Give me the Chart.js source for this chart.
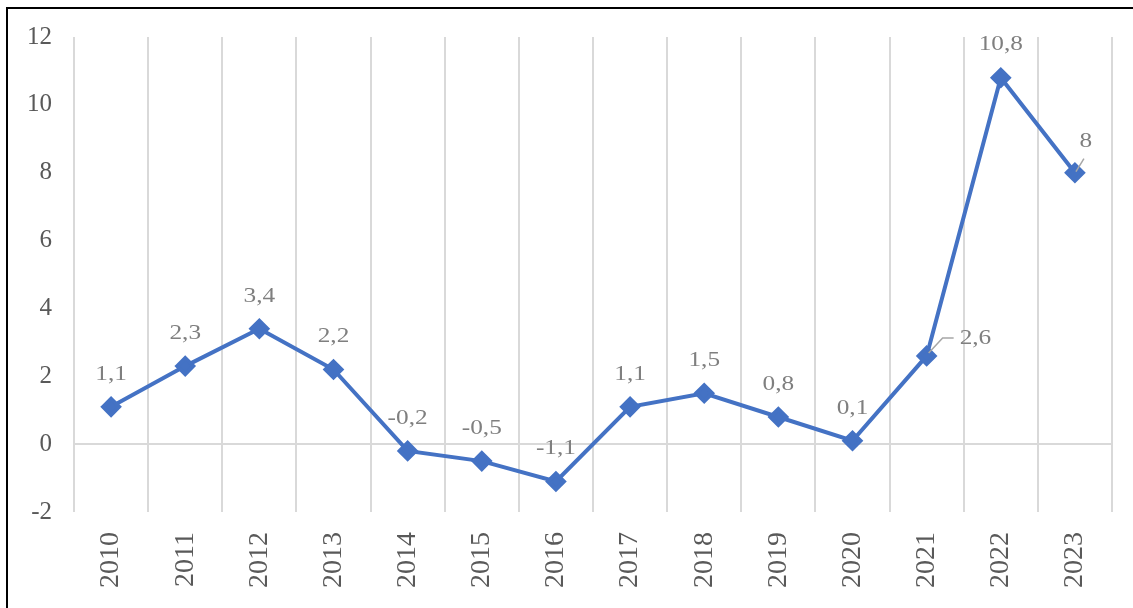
<!DOCTYPE html>
<html>
<head>
<meta charset="utf-8">
<script src="https://cdn.jsdelivr.net/npm/chart.js@4/dist/chart.umd.min.js"></script>
<style>
  html, body { margin: 0; padding: 0; background: #fff; }
  #wrap { position: absolute; left: 0; top: 0; width: 1133px; height: 608px; }
  #frame { position: absolute; left: 6px; top: 7px; width: 1140px; height: 620px;
           border-left: 2px solid #000; border-top: 2px solid #000; pointer-events: none; }
</style>
</head>
<body>
<div id="wrap">
  <canvas id="Chart_0" width="1133" height="608"></canvas>
  <div id="frame"></div>
</div>
<script>
"use strict";

// data
const years = ['2010', '2011', '2012', '2013', '2014', '2015', '2016',
  '2017', '2018', '2019', '2020', '2021', '2022', '2023'];
const values = [1.1, 2.3, 3.4, 2.2, -0.2, -0.5, -1.1, 1.1, 1.5, 0.8, 0.1, 2.6, 10.8, 8];
const yTicks = [-2, 0, 2, 4, 6, 8, 10, 12];

const SERIF = '"Liberation Serif", "Times New Roman", serif';

// value labels drawn by hand (no datalabels plugin here)
function drawLabel(ctx, txt, x, y, align) {
  // text in the picture is a bit wider than tall
  ctx.save();
  ctx.translate(x, y);
  ctx.scale(1.15, 1);
  ctx.textAlign = align;
  ctx.fillText(txt, 0, 0);
  ctx.restore();
}

const labelPlugin = {
  id: 'valueLabels',
  afterDatasetsDraw(chart) {
    const ctx = chart.ctx;
    const meta = chart.getDatasetMeta(0);
    ctx.save();
    ctx.font = '22px ' + SERIF;
    ctx.fillStyle = '#7f7f7f';
    ctx.textBaseline = 'middle';
    ctx.strokeStyle = '#a6a6a6'; ctx.lineWidth = 1.5;
    meta.data.forEach((pt, i) => {
      const txt = String(values[i]).replace('.', ',');
      if (i === 11) { // 2021: label to the right with leader line
        ctx.beginPath();
        ctx.moveTo(pt.x + 2, pt.y - 3); ctx.lineTo(pt.x + 16, pt.y - 18); ctx.lineTo(pt.x + 27, pt.y - 18);
        ctx.stroke();
        drawLabel(ctx, txt, pt.x + 33, pt.y - 18, 'left');
      } else if (i === 13) { // 2023: label up-right with leader line
        ctx.beginPath();
        ctx.moveTo(pt.x + 1, pt.y - 1); ctx.lineTo(pt.x + 9, pt.y - 14);
        ctx.stroke();
        drawLabel(ctx, txt, pt.x + 11, pt.y - 31, 'center');
      } else {
        drawLabel(ctx, txt, pt.x, pt.y - 33, 'center');
      }
    });
    ctx.restore();
  }
};

const ctx = document.getElementById('Chart_0');
new Chart(ctx, {
  type: 'line',
  data: {
    labels: years,
    datasets: [{
      data: values,
      borderColor: '#4472c4',
      backgroundColor: '#4472c4',
      borderWidth: 4,
      pointStyle: 'rectRot',
      pointRadius: 8,
      pointHoverRadius: 8,
      tension: 0
    }]
  },
  options: {
    responsive: false,
    animation: false,
    devicePixelRatio: 1,
    layout: { padding: { top: 37, right: 21, left: 0, bottom: 0 } },
    plugins: { legend: { display: false }, tooltip: { enabled: false } },
    scales: {
      x: {
        offset: true,
        grid: { offset: true, color: '#d9d9d9', lineWidth: 2, drawTicks: false },
        border: { display: false },
        ticks: {
          color: '#595959', font: { family: SERIF, size: 28 },
          minRotation: 90, maxRotation: 90, padding: 20, autoSkip: false
        },
        afterFit(scale) { scale.height = 96; }
      },
      y: {
        min: -2, max: 12,
        afterBuildTicks(scale) { scale.ticks = yTicks.map(v => ({ value: v })); },
        grid: {
          drawTicks: false, lineWidth: 2,
          color: c => (c.tick && c.tick.value === 0) ? '#d9d9d9' : 'rgba(0,0,0,0)'
        },
        border: { display: false },
        ticks: { color: '#595959', font: { family: SERIF, size: 25 }, padding: 22 },
        afterFit(scale) { scale.width = 74; }
      }
    }
  },
  plugins: [labelPlugin]
});
</script>
</body>
</html>
